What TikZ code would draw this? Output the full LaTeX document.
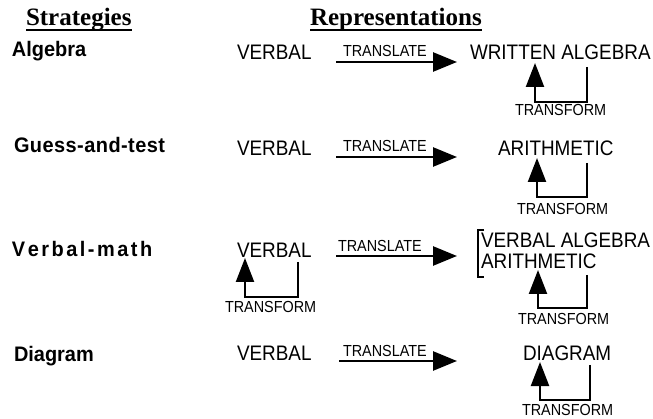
\documentclass[tikz,border=0pt]{standalone}
\usepackage{fontspec}
\setmainfont{Liberation Sans}
\newfontfamily\headfont{Liberation Serif}
\newfontfamily\repfont[FakeStretch=0.9]{Liberation Sans}
\newfontfamily\stratfont[FakeStretch=0.95]{Liberation Sans}
\usetikzlibrary{arrows.meta}
\makeatletter
\newcommand\spacedtext[2]{\@tfor\@ch:=#2\do{\@ch\kern#1}}
\makeatother
\begin{document}
\begin{tikzpicture}[x=1pt,y=-1pt,
  txt/.style={anchor=base west,inner sep=0pt,outer sep=0pt},
  head/.style={txt,font=\headfont\bfseries\fontsize{25}{28}\selectfont},
  strat/.style={txt,font=\stratfont\bfseries\fontsize{21}{24}\selectfont},
  rep/.style={txt,font=\repfont\fontsize{21}{24}\selectfont},
  small/.style={txt,font=\repfont\fontsize{16}{18}\selectfont},
  translatearrow/.style={line width=2.6pt,-{Triangle[length=24pt,width=19pt]}},
  loopline/.style={line width=2.2pt,-{Triangle[length=24pt,width=18pt]}},
  underl/.style={line width=1.4pt},
  bracket/.style={line width=2.2pt},
]
\useasboundingbox[fill=white] (0,0) rectangle (653,419);

% headers
\node[head] (h1) at (26,26) {Strategies};
\node[head] (h2) at (310,26) {Representations};
\draw[underl] ([yshift=-4pt]h1.base west) -- ([yshift=-4pt]h1.base east);
\draw[underl] ([yshift=-4pt]h2.base west) -- ([yshift=-4pt]h2.base east);

% row 1
\node[strat] (s1) at (12,57) {Algebra};
\node[rep] (v1) at (237,60) {VERBAL};
\node[small] (tl1) at (343,57) {TRANSLATE};
\coordinate (a1s) at (336,62);
\coordinate (a1e) at (457,62);
\draw[translatearrow] (a1s) -- (a1e);
\node[rep] (r1) at (470,60) {WRITTEN ALGEBRA};
\coordinate (f1r) at (587,67);
\coordinate (f1l) at (535,63);
\draw[loopline] (f1r) -- ++(0,35) -| (f1l);
\node[small] (tf1) at (515,116) {TRANSFORM};

% row 2
\node[strat] (s2) at (14,153) {\spacedtext{0.45pt}{Guess-and-test}};
\node[rep] (v2) at (237,156) {VERBAL};
\node[small] (tl2) at (343,152) {TRANSLATE};
\coordinate (a2s) at (336,157);
\coordinate (a2e) at (457,157);
\draw[translatearrow] (a2s) -- (a2e);
\node[rep] (r2) at (498,156) {ARITHMETIC};
\coordinate (f2r) at (587,163);
\coordinate (f2l) at (537,158);
\draw[loopline] (f2r) -- ++(0,34) -| (f2l);
\node[small] (tf2) at (517,215) {TRANSFORM};

% row 3
\node[strat] (s3) at (12,257) {\spacedtext{2.5pt}{Verbal-math}};
\node[rep] (v3) at (237,258) {VERBAL};
\coordinate (f3r) at (298,262);
\coordinate (f3l) at (245,258);
\draw[loopline] (f3r) -- ++(0,35) -| (f3l);
\node[small] (tf3) at (225,313) {TRANSFORM};
\node[small] (tl3) at (338,252) {TRANSLATE};
\coordinate (a3s) at (336,256);
\coordinate (a3e) at (457,256);
\draw[translatearrow] (a3s) -- (a3e);
\draw[bracket] (484,230) -- (478,230) -- (478,277) -- (484,277);
\node[rep] (r3a) at (481,248) {VERBAL ALGEBRA};
\node[rep] (r3b) at (481,269) {ARITHMETIC};
\coordinate (f4r) at (587,275);
\coordinate (f4l) at (538,270);
\draw[loopline] (f4r) -- ++(0,33) -| (f4l);
\node[small] (tf4) at (518,325) {TRANSFORM};

% row 4
\node[strat] (s4) at (14,362) {Diagram};
\node[rep] (v4) at (237,360) {VERBAL};
\node[small] (tl4) at (343,357) {TRANSLATE};
\coordinate (a4s) at (339,361);
\coordinate (a4e) at (457,361);
\draw[translatearrow] (a4s) -- (a4e);
\node[rep] (r4) at (523,360) {DIAGRAM};
\coordinate (f5r) at (590,365);
\coordinate (f5l) at (540,362);
\draw[loopline] (f5r) -- ++(0,35) -| (f5l);
\node[small] (tf5) at (522,415) {TRANSFORM};
\end{tikzpicture}
\end{document}
